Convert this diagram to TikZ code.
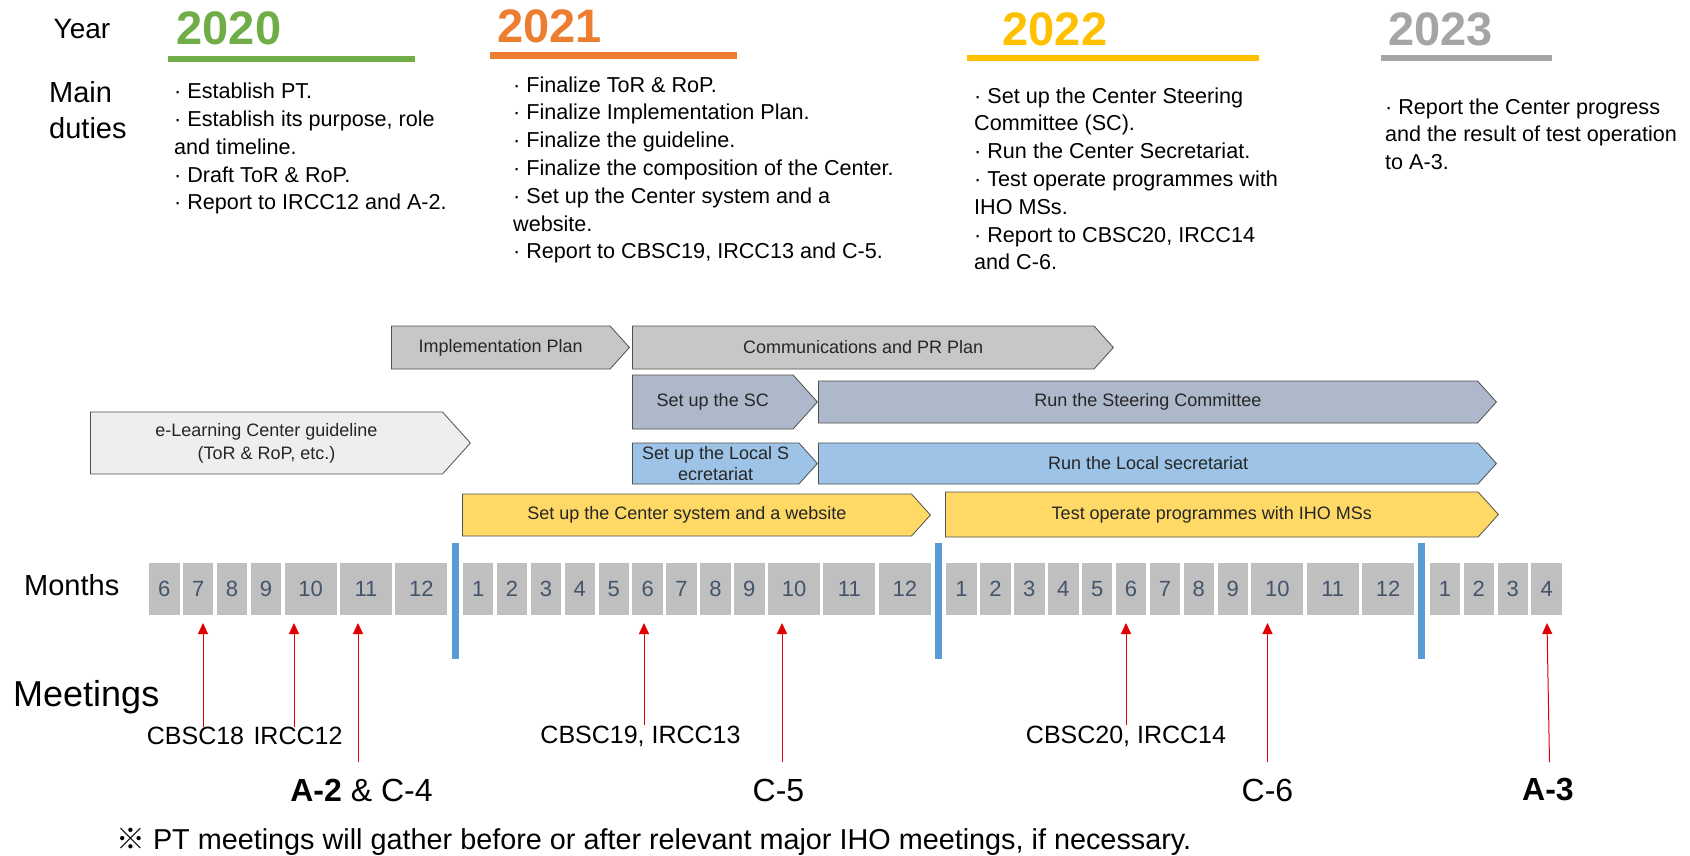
\documentclass[tikz,border=0pt]{standalone}
\usepackage{fontspec}
\setmainfont{Liberation Sans}
\newfontfamily\cjkfont{Noto Sans CJK JP}
\usepackage{xcolor}
\usepackage{tikz}
\usetikzlibrary{positioning, arrows.meta, shapes.symbols, calc}

\definecolor{yrgreen}{RGB}{112,173,71}
\definecolor{yrorange}{RGB}{237,125,49}
\definecolor{yrgold}{RGB}{255,192,0}
\definecolor{yrgray}{RGB}{165,165,165}
\definecolor{monthfill}{RGB}{191,191,191}
\definecolor{monthtext}{RGB}{68,84,106}
\definecolor{sepblue}{RGB}{91,155,213}
\definecolor{plangray}{RGB}{199,199,199}
\definecolor{guidegray}{RGB}{238,238,238}
\definecolor{scblue}{RGB}{173,185,202}
\definecolor{lsblue}{RGB}{157,195,230}
\definecolor{sysyellow}{RGB}{255,217,102}
\definecolor{edgegray}{RGB}{80,80,80}
\definecolor{meetred}{RGB}{225,0,0}

\newcommand{\fsz}[2]{\fontsize{#1}{#2}\selectfont}

\begin{document}
\begin{tikzpicture}[x=1pt, y=-1pt, node distance=3.4pt,
  every node/.style={inner sep=0pt},
  yearlbl/.style={font=\fsz{47}{50}\bfseries},
  yearbar/.style={line width=6.5pt},
  duty/.style={anchor=north west, align=left, font=\fsz{21.6}{27.8}},
  mbox/.style={fill=monthfill, outer sep=0pt, minimum height=52pt, minimum width=30.5pt, text=monthtext, font=\fsz{22}{24}},
  yearsep/.style={sepblue, line width=7pt},
  task/.style={signal, signal to=east, signal pointer angle=96, anchor=west, draw=edgegray, line width=0.8pt, text=black!85, font=\fsz{18}{20.5}, align=center},
  meet/.style={font=\fsz{25}{28}},
  major/.style={font=\fsz{32}{36}},
  meetarrow/.style={meetred, line width=1pt, -{Triangle[width=10pt,length=11pt]}}
]
\fill[white] (0,0) rectangle (1690,856);

% Years and duties
\node[font=\fsz{28}{30}] (yearhd) at (82,29) {Year};
\node[anchor=north west, align=left, font=\fsz{29}{36}] (dutyhd) at (49,81.5) {Main\\duties};

\node[yearlbl, text=yrgreen] (y2020) at (229,28) {2020};
\draw[yearbar, yrgreen] (168,59) -- (415,59);
\node[yearlbl, text=yrorange] (y2021) at (549.5,26.5) {2021};
\draw[yearbar, yrorange] (490,55.5) -- (737,55.5);
\node[yearlbl, text=yrgold] (y2022) at (1055,29) {2022};
\draw[yearbar, yrgold] (967,58) -- (1259,58);
\node[yearlbl, text=yrgray] (y2023) at (1440.5,29) {2023};
\draw[yearbar, yrgray] (1381,58) -- (1552,58);

\node[duty] (duty20) at (174,82.8) {· Establish PT.\\· Establish its purpose, role\\and timeline.\\· Draft ToR \& RoP.\\· Report to IRCC12 and A-2.};
\node[duty] (duty21) at (513,76.3) {· Finalize ToR \& RoP.\\· Finalize Implementation Plan.\\· Finalize the guideline.\\· Finalize the composition of the Center.\\· Set up the Center system and a\\website.\\· Report to CBSC19, IRCC13 and C-5.};
\node[duty] (duty22) at (974,87.3) {· Set up the Center Steering\\Committee (SC).\\· Run the Center Secretariat.\\· Test operate programmes with\\IHO MSs.\\· Report to CBSC20, IRCC14\\and C-6.};
\node[duty] (duty23) at (1385,98.3) {· Report the Center progress\\and the result of test operation\\to A-3.};

% Tasks
\node[task, fill=plangray, minimum width=238pt, minimum height=43pt] (impl) at (391,347.5) {Implementation Plan};
\node[task, fill=plangray, minimum width=481pt, minimum height=43pt] (comm) at (632,347.5) {Communications and PR Plan};
\node[task, fill=scblue, minimum width=185pt, minimum height=54pt] (setsc) at (632,402) {Set up the SC};
\node[task, fill=scblue, minimum width=678pt, minimum height=42pt] (runsc) at (818,402) {Run the Steering Committee};
\node[task, fill=guidegray, minimum width=380pt, minimum height=62pt, font=\fsz{18}{23}] (guide) at (90,443) {e-Learning Center guideline\\(ToR \& RoP, etc.)};
\node[task, fill=lsblue, minimum width=185pt, minimum height=41pt] (setls) at (632,463.5) {Set up the Local S\\ecretariat};
\node[task, fill=lsblue, minimum width=678pt, minimum height=41pt] (runls) at (818,463.5) {Run the Local secretariat};
\node[task, fill=sysyellow, minimum width=468pt, minimum height=42pt] (sysweb) at (462,515) {Set up the Center system and a website};
\node[task, fill=sysyellow, minimum width=553pt, minimum height=45pt] (testop) at (945,514.5) {Test operate programmes with IHO MSs};

% Months
\node[font=\fsz{29}{32}, anchor=west] (monthhd) at (24,585) {Months};
\node[mbox] (m20-6) at (164.25,589) {6};
\foreach \m/\w [remember=\m as \p (initially 6)] in {7/30.5, 8/30.5, 9/30.5, 10/52, 11/52, 12/52}
  \node[mbox, minimum width=\w pt, right=of m20-\p] (m20-\m) {\m};
\foreach \y/\prev in {21/20, 22/21} {
  \node[mbox, right=15.5pt of m\prev-12] (m\y-1) {1};
  \foreach \m/\w [remember=\m as \p (initially 1)] in {2/30.5, 3/30.5, 4/30.5, 5/30.5, 6/30.5, 7/30.5, 8/30.5, 9/30.5, 10/52, 11/52, 12/52}
    \node[mbox, minimum width=\w pt, right=of m\y-\p] (m\y-\m) {\m};
}
\node[mbox, right=15.5pt of m22-12] (m23-1) {1};
\foreach \m [remember=\m as \p (initially 1)] in {2,3,4}
  \node[mbox, right=of m23-\p] (m23-\m) {\m};

\foreach \a/\b in {20/21, 21/22, 22/23}
  \draw[yearsep] ($(m\a-12.east)!.5!(m\b-1.west)$) ++(0,-46) -- ++(0,116);

% Meetings
\node[anchor=base west, font=\fsz{36}{40}] (meethd) at (13,706) {Meetings};
\node[meet] (cbsc18) at (195.5,736) {CBSC18};
\node[meet] (ircc12) at (298,736) {IRCC12};
\node[major] (a2c4) at (361.5,790) {\textbf{A-2} \& C-4};
\node[meet] (cbsc19) at (640.5,736) {CBSC19, IRCC13};
\node[major] (c5) at (778.5,790) {C-5};
\node[meet] (cbsc20) at (1126,736) {CBSC20, IRCC14};
\node[major] (c6) at (1267.5,790) {C-6};
\node[major] (a3) at (1548,790) {\textbf{A-3}};

\draw[meetarrow] ($(cbsc18.north)+(7.5,0)$) -- ($(cbsc18.north |- m20-7.south)+(7.5,8)$);
\draw[meetarrow] ($(ircc12.north)+(-4,0)$) -- ($(ircc12.north |- m20-10.south)+(-4,8)$);
\draw[meetarrow] ($(a2c4.north)+(-3.5,-16)$) -- ($(a2c4.north |- m20-11.south)+(-3.5,8)$);
\draw[meetarrow] ($(cbsc19.north)+(3.5,0)$) -- ($(cbsc19.north |- m21-6.south)+(3.5,8)$);
\draw[meetarrow] ($(c5.north)+(3.5,-16)$) -- ($(c5.north |- m21-10.south)+(3.5,8)$);
\draw[meetarrow] (cbsc20.north) -- ($(cbsc20.north |- m22-6.south)+(0,8)$);
\draw[meetarrow] ($(c6.north)+(0,-16)$) -- ($(c6.north |- m22-10.south)+(0,8)$);
\draw[meetarrow] ($(a3.north)+(1.5,-16)$) -- ($(a3.north |- m23-4.south)+(-1,8)$);

\node[anchor=west, font=\fsz{28.8}{30}] (note) at (116,842) {{\cjkfont ※} PT meetings will gather before or after relevant major IHO meetings, if necessary.};
\end{tikzpicture}
\end{document}
